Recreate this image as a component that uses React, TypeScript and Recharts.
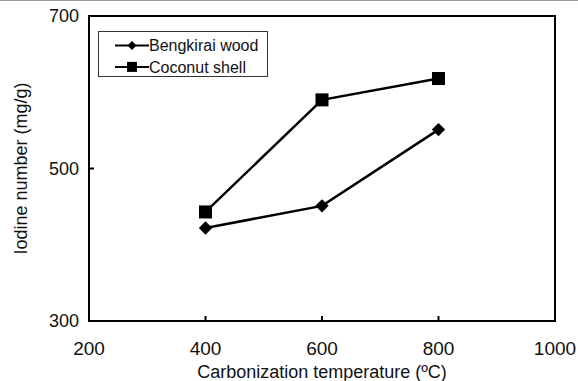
import React from "react";
import {
  LineChart,
  Line,
  XAxis,
  YAxis,
  Legend,
  ReferenceArea,
} from "recharts";

// Carbonization temperature (°C)
const temperatures = [400, 600, 800];
// Iodine number (mg/g) per material
const bengkiraiWood = [422, 451, 551];
const coconutShell = [443, 590, 618];

const xTicks = [200, 400, 600, 800, 1000];
const yTicks = [300, 500, 700];

const seriesNames = {
  bengkirai: "Bengkirai wood",
  coconut: "Coconut shell",
};

const data = temperatures.map((t, i) => ({
  temperature: t,
  bengkirai: bengkiraiWood[i],
  coconut: coconutShell[i],
}));

const FONT = "'Liberation Sans', Arial, Helvetica, sans-serif";

const diamondPath = (cx: number, cy: number, r: number) =>
  `M${cx},${cy - r}L${cx + r},${cy}L${cx},${cy + r}L${cx - r},${cy}Z`;

const DiamondDot = (props: any) => {
  const { cx, cy, index } = props;
  if (cx == null || cy == null) return <g key={`d-${index}`} />;
  return <path key={`d-${index}`} d={diamondPath(cx, cy, 6.7)} fill="#000" />;
};

const SquareDot = (props: any) => {
  const { cx, cy, index } = props;
  if (cx == null || cy == null) return <g key={`s-${index}`} />;
  const s = 13;
  return (
    <rect key={`s-${index}`} x={cx - s / 2} y={cy - s / 2} width={s} height={s} fill="#000" />
  );
};

// Legend rows drawn in SVG: line segment, marker, then the series name
const LegendBox = (props: any) => {
  const { payload = [] } = props;
  const rowH = 21.4;
  return (
    <svg width={168} height={44} style={{ display: "block" }}>
      {payload.map((entry: any, i: number) => {
        const isDiamond = entry.dataKey === "bengkirai";
        const cy = 13.5 + i * rowH;
        return (
          <g key={entry.value}>
            <line x1={16} y1={cy} x2={50} y2={cy} stroke="#000" strokeWidth={2} />
            {isDiamond ? (
              <path d={diamondPath(33, cy, 4.6)} fill="#000" />
            ) : (
              <rect x={28} y={cy - 5} width={10} height={10} fill="#000" />
            )}
            <text
              x={50}
              y={cy + 5.8}
              fontFamily={FONT}
              fontSize={16}
              fill="#111"
            >
              {entry.value}
            </text>
          </g>
        );
      })}
    </svg>
  );
};

export default function App() {
  return (
    <div
      style={{
        position: "absolute",
        left: 0,
        top: 0,
        width: 578,
        height: 381,
        background: "#fff",
        borderTop: "1px solid #9a9a9a",
        boxSizing: "border-box",
      }}
    >
      <LineChart
        width={578}
        height={380}
        data={data}
        margin={{ top: 15, right: 23, bottom: 0, left: 0 }}
        style={{ fontFamily: FONT }}
      >
        <XAxis
          dataKey="temperature"
          type="number"
          domain={[200, 1000]}
          ticks={xTicks}
          interval={0}
          height={60}
          axisLine={false}
          tickSize={-5}
          tickMargin={26}
          tickLine={{ stroke: "#000", strokeWidth: 2 }}
          tick={{ fill: "#111", fontSize: 19, fontFamily: FONT }}
          label={{
            value: "Carbonization temperature (ºC)",
            position: "insideBottom",
            offset: 3,
            style: { fill: "#111", fontSize: 18, fontFamily: FONT },
          }}
        />
        <YAxis
          type="number"
          domain={[300, 700]}
          ticks={yTicks}
          interval={0}
          width={89}
          axisLine={false}
          tickSize={-5}
          tickMargin={15}
          tickLine={{ stroke: "#000", strokeWidth: 2 }}
          tick={{ fill: "#111", fontSize: 18, fontFamily: FONT }}
          label={{
            value: "Iodine number (mg/g)",
            angle: -90,
            position: "insideLeft",
            offset: 21,
            style: { fill: "#111", fontSize: 18, fontFamily: FONT, textAnchor: "middle" },
          }}
        />
        <ReferenceArea
          x1={200}
          x2={1000}
          y1={300}
          y2={700}
          fill="none"
          fillOpacity={0}
          stroke="#000"
          strokeWidth={2}
          ifOverflow="visible"
        />
        <Legend
          layout="vertical"
          verticalAlign="middle"
          align="center"
          content={<LegendBox />}
          wrapperStyle={{
            left: 98,
            top: 30,
            width: 170,
            height: 46,
            border: "1px solid #333",
            boxSizing: "border-box",
            background: "#fff",
          }}
        />
        <Line
          type="linear"
          dataKey="bengkirai"
          name={seriesNames.bengkirai}
          stroke="#000"
          strokeWidth={2.5}
          dot={DiamondDot}
          activeDot={false}
          isAnimationActive={false}
        />
        <Line
          type="linear"
          dataKey="coconut"
          name={seriesNames.coconut}
          stroke="#000"
          strokeWidth={2.5}
          dot={SquareDot}
          activeDot={false}
          isAnimationActive={false}
        />
      </LineChart>
    </div>
  );
}
